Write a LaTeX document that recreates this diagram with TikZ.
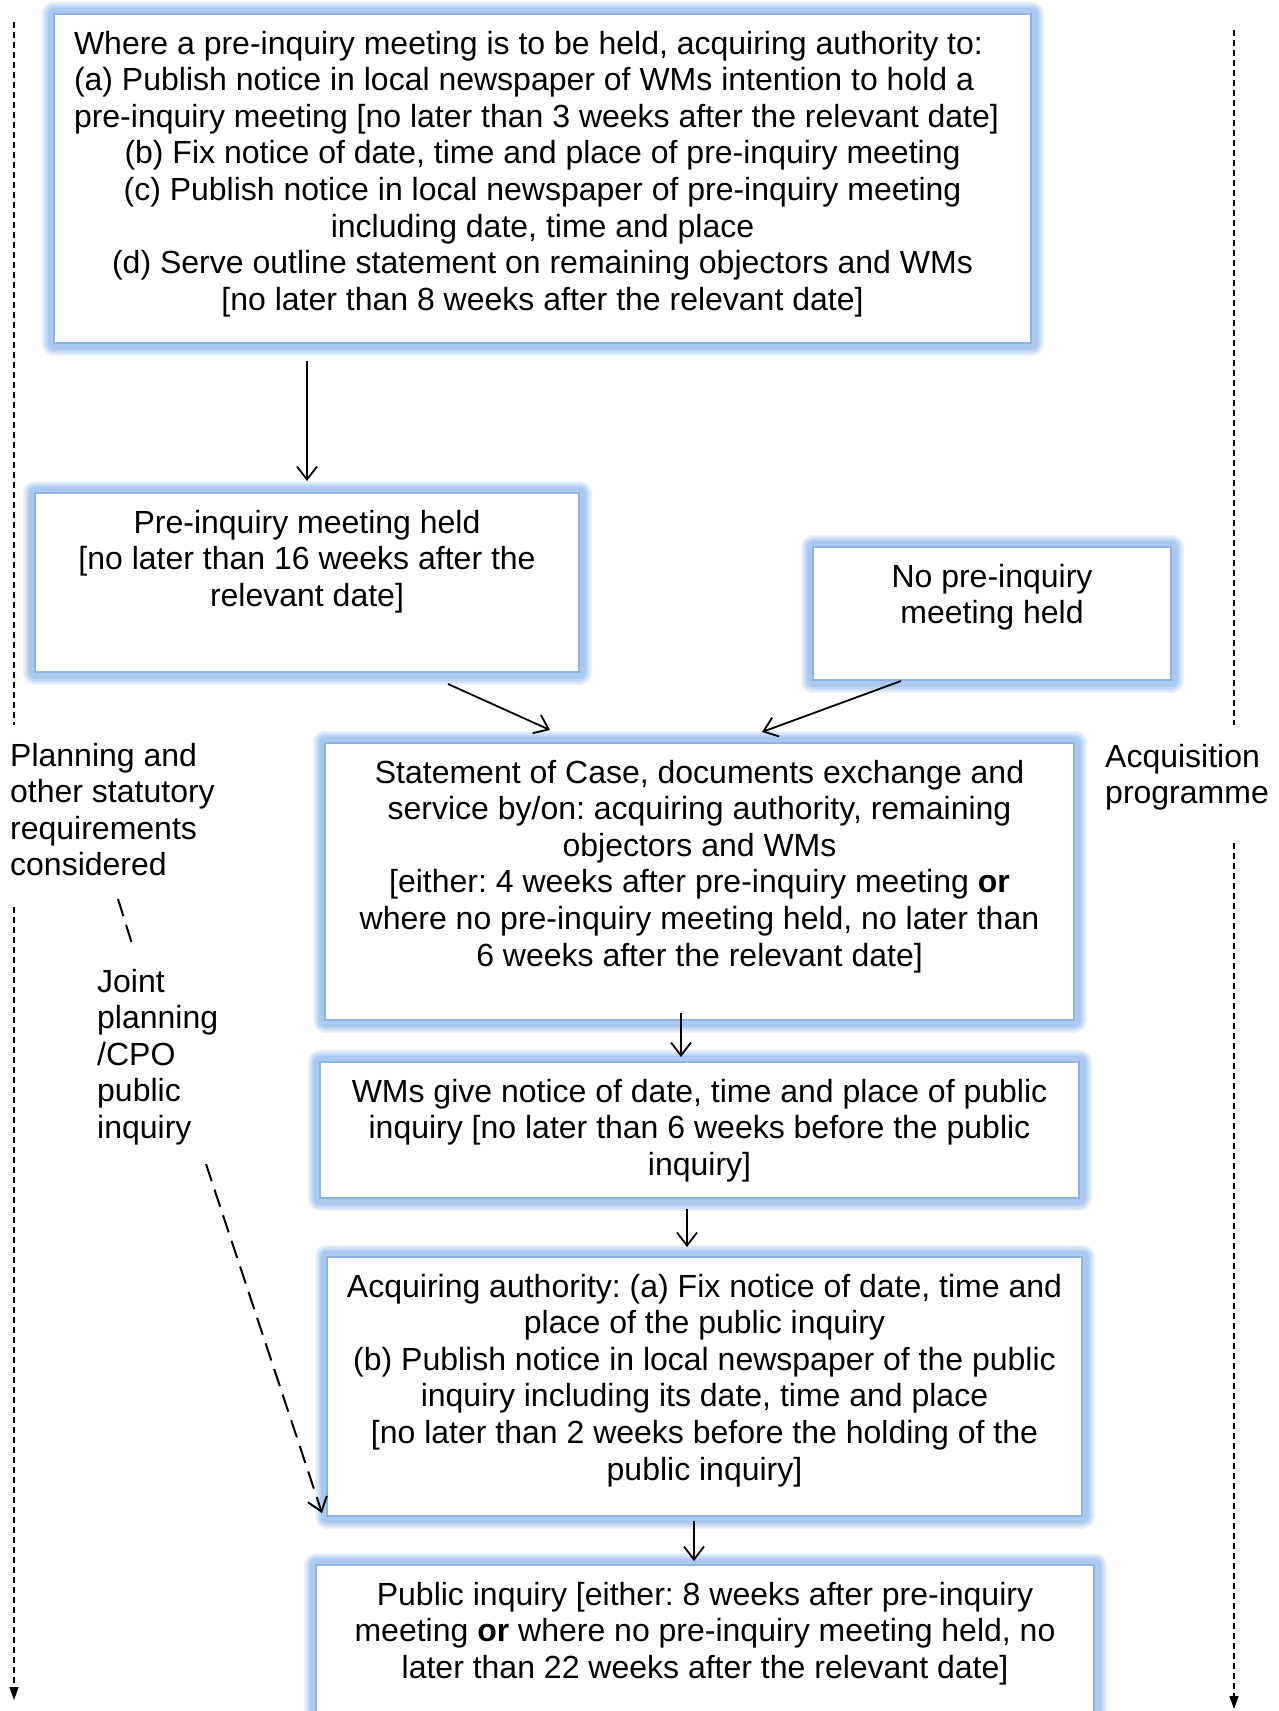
\documentclass[tikz,border=0pt]{standalone}
\usepackage{fontspec}
\setmainfont{Liberation Sans}
\usetikzlibrary{arrows.meta}
\definecolor{bordc}{HTML}{8DB3E3}
\definecolor{glowA}{HTML}{E8F0FB}
\definecolor{glowB}{HTML}{D2E2F7}
\definecolor{glowC}{HTML}{BCD5F3}
\definecolor{glowD}{HTML}{A9C9F0}
\frenchspacing
\newcommand{\myBoxTxt}[3]{\parbox[c][#2][t]{#1}{\frenchspacing\centering\rule{0pt}{40pt}#3}}
\newcommand{\myLbl}[1]{\parbox[t]{300pt}{\raggedright #1}}
\newcommand{\myLeftLn}[1]{\makebox[\linewidth][l]{#1}}
\tikzset{
  every node/.style={font=\fontsize{32pt}{36.6pt}\selectfont},
  boxnode/.style={rectangle, draw=bordc, line width=2pt, fill=white, inner sep=0pt,
    preaction={draw=glowA, line width=25pt, line join=round},
    preaction={draw=glowB, line width=21pt, line join=round},
    preaction={draw=glowC, line width=17pt, line join=round},
    preaction={draw=glowD, line width=13pt, line join=round}},
  arr/.style={line width=1.8pt, -{Straight Barb[length=13pt,width=20pt,line width=1.8pt]}},
  sidedash/.style={line width=1.2pt, dash pattern=on 6pt off 4pt},
  sidearr/.style={sidedash, -{Triangle[length=13pt,width=9pt]}},
  jdash/.style={line width=2pt, dash pattern=on 18pt off 9pt},
  jarr/.style={jdash, -{Straight Barb[length=13pt,width=20pt,line width=2pt]}},
  lbl/.style={anchor=base west, inner sep=0pt},
}
\begin{document}
\begin{tikzpicture}[x=1pt,y=-1pt]
\useasboundingbox (0,0) rectangle (1279,1711);
\clip (0,0) rectangle (1279,1711);

% boxes
\node[boxnode, minimum width=977pt, minimum height=329pt] (B1) at (542.5,178.5)
  {\myBoxTxt{937pt}{329pt}{%
  \myLeftLn{Where a pre-inquiry meeting is to be held, acquiring authority to:}\\
  \myLeftLn{(a) Publish notice in local newspaper of WMs intention to hold a}\\
  \myLeftLn{pre-inquiry meeting [no later than 3 weeks after the relevant date]}\\
  (b) Fix notice of date, time and place of pre-inquiry meeting\\
  (c) Publish notice in local newspaper of pre-inquiry meeting\\
  including date, time and place\\
  (d) Serve outline statement on remaining objectors and WMs\\\relax
  [no later than 8 weeks after the relevant date]}};

\node[boxnode, minimum width=544pt, minimum height=179pt] (B2) at (307,582.5)
  {\myBoxTxt{524pt}{179pt}{Pre-inquiry meeting held\\\relax
  [no later than 16 weeks after the\\ relevant date]}};

\node[boxnode, minimum width=358pt, minimum height=133pt] (B3) at (992,613.5)
  {\myBoxTxt{338pt}{133pt}{No pre-inquiry\\ meeting held}};

\node[boxnode, minimum width=749pt, minimum height=277pt] (B4) at (699.5,881.5)
  {\myBoxTxt{729pt}{277pt}{Statement of Case, documents exchange and\\
  service by/on: acquiring authority, remaining\\
  objectors and WMs\\\relax
  [either: 4 weeks after pre-inquiry meeting \textbf{or}\\
  where no pre-inquiry meeting held, no later than\\
  6 weeks after the relevant date]}};

\node[boxnode, minimum width=759pt, minimum height=136pt] (B5) at (699.5,1130)
  {\myBoxTxt{739pt}{136pt}{WMs give notice of date, time and place of public\\
  inquiry [no later than 6 weeks before the public\\
  inquiry]}};

\node[boxnode, minimum width=755pt, minimum height=259pt] (B6) at (704.5,1386.5)
  {\myBoxTxt{735pt}{259pt}{Acquiring authority: (a) Fix notice of date, time and\\
  place of the public inquiry\\
  (b) Publish notice in local newspaper of the public\\
  inquiry including its date, time and place\\\relax
  [no later than 2 weeks before the holding of the\\
  public inquiry]}};

\node[boxnode, minimum width=778pt, minimum height=195pt] (B7) at (705,1662.5)
  {\myBoxTxt{758pt}{195pt}{Public inquiry [either: 8 weeks after pre-inquiry\\
  meeting \textbf{or} where no pre-inquiry meeting held, no\\
  later than 22 weeks after the relevant date]}};

% side labels
\node[lbl] (plan) at (10,766) {\myLbl{Planning and\\ other statutory\\ requirements\\ considered}};
\node[lbl] (acq) at (1105,767) {\myLbl{Acquisition\\ programme}};
\node[lbl] (joint) at (97,992) {\myLbl{Joint\\ planning\\ /CPO\\ public\\ inquiry}};

% side dashed lines
\coordinate (Lt) at (14,22);
\coordinate (Lm1) at (14,725);
\coordinate (Lm2) at (14,907);
\coordinate (Lb) at (14,1700);
\coordinate (Rt) at (1234,30);
\coordinate (Rm1) at (1234,725);
\coordinate (Rm2) at (1234,843);
\coordinate (Rb) at (1234,1709);
\draw[sidedash] (Lt) -- (Lm1);
\draw[sidearr] (Lm2) -- (Lb);
\draw[sidedash] (Rt) -- (Rm1);
\draw[sidearr] (Rm2) -- (Rb);

% joint planning dashed connector
\coordinate (J1) at (118,899);
\coordinate (J2) at (133,947);
\coordinate (J3) at (206,1164);
\draw[jdash] (J1) -- (J2);
\draw[jarr] (J3) -- ([shift={(-4pt,4pt)}]B6.south west);

% flow arrows
\draw[arr, shorten <=17pt, shorten >=11pt] (B2.north |- B1.south) -- (B2.north);
\draw[arr] ([xshift=141pt,yshift=-11pt]B2.south) -- ([xshift=-149.5pt,yshift=12pt]B4.north);
\draw[arr] ([xshift=-91pt]B3.south) -- ([xshift=62.5pt,yshift=10pt]B4.north);
\draw[arr] ([xshift=-18.5pt,yshift=8pt]B4.south) -- ([xshift=-18.5pt,yshift=4pt]B5.north);
\draw[arr] ([xshift=-12.5pt,yshift=-10pt]B5.south) -- ([xshift=-17.5pt,yshift=9pt]B6.north);
\draw[arr] ([xshift=-10.5pt,yshift=-4pt]B6.south) -- ([xshift=-11pt,yshift=3pt]B7.north);
\end{tikzpicture}
\end{document}
